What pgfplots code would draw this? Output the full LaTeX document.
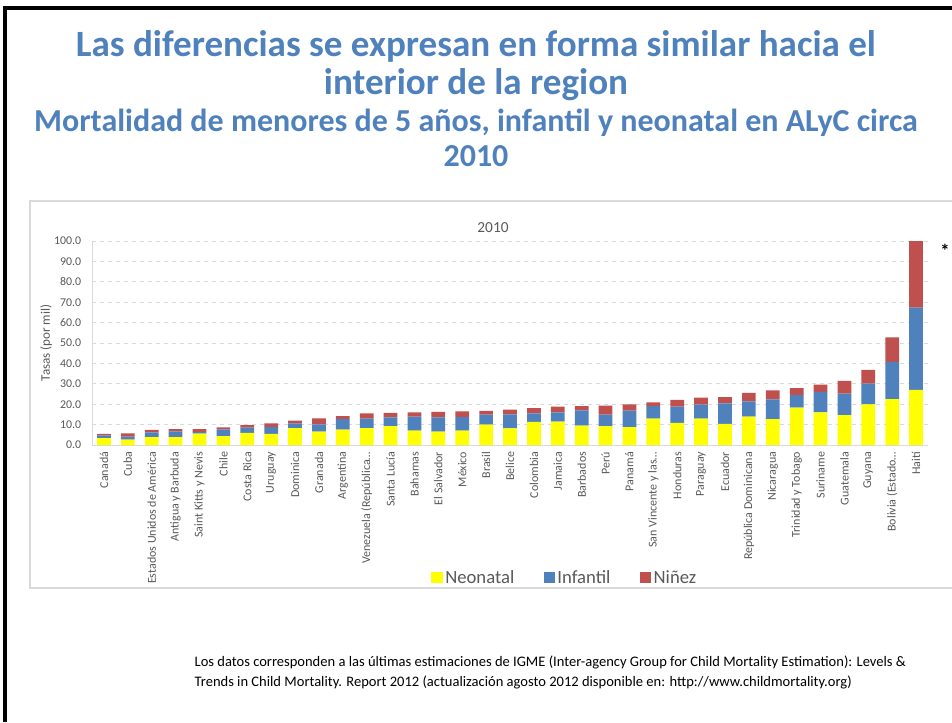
\documentclass[border=0pt]{standalone}
\usepackage{pgfplots}
\pgfplotsset{compat=1.18}
\usepackage{pgfplotstable}
\usepackage{fontspec}
\setmainfont{Carlito}
\definecolor{ttl}{HTML}{4F81BD}
\definecolor{neo}{HTML}{FFFF00}
\definecolor{inf}{HTML}{4F81BD}
\definecolor{nin}{HTML}{C0504D}
\definecolor{lbl}{HTML}{595959}
\definecolor{grd}{HTML}{D9D9D9}

\pgfplotstableread{
x neo inf nin
0 3.4 1.3 0.7
1 2.6 1.5 1.6
2 3.9 2.3 1.2
3 3.9 2.8 1.1
4 5.6 0.8 1.4
5 4.4 3.3 1.0
6 5.9 2.6 1.3
7 5.4 3.4 1.8
8 8.3 2.3 1.3
9 6.5 3.6 3.0
10 7.5 5.2 1.5
11 8.3 4.6 2.6
12 9.3 4.3 2.1
13 7.0 6.9 2.1
14 6.5 7.1 2.6
15 7.0 6.7 2.8
16 10.0 4.9 1.8
17 8.2 6.8 2.3
18 11.3 4.2 2.6
19 11.4 4.6 2.8
20 9.5 7.5 2.1
21 9.3 5.6 4.4
22 8.8 8.0 3.1
23 12.9 6.1 1.9
24 10.8 8.0 3.3
25 12.9 6.9 3.4
26 10.3 10.1 3.1
27 13.9 7.5 4.1
28 12.7 9.7 4.4
29 18.3 6.2 3.4
30 16.0 10.1 3.5
31 14.7 10.5 6.2
32 19.9 10.2 6.7
33 22.5 18.2 12.1
34 27.0 40.3 32.7
}\datatable

\begin{document}
\begin{tikzpicture}[x=0.75pt,y=0.75pt]
\path[use as bounding box] (0,0) rectangle (952,722);
\fill[white] (0,0) rectangle (952,722);
\coordinate (axorig) at (92,277);
% slide border
\draw[black,line width=2.4pt] (5,0) -- (5,714) -- (952,714);
% titles
\node[anchor=base,text=ttl,font=\fontsize{27.8}{30}\selectfont\bfseries] at (476,722-57) {Las diferencias se expresan en forma similar hacia el};
\node[anchor=base,text=ttl,font=\fontsize{27.8}{30}\selectfont\bfseries] at (476,722-95) {interior de la region};
\node[anchor=base,text=ttl,font=\fontsize{24}{26}\selectfont\bfseries] at (476,722-132) {Mortalidad de menores de 5 años, infantil y neonatal en ALyC circa};
\node[anchor=base,text=ttl,font=\fontsize{24}{26}\selectfont\bfseries] at (476,722-167) {2010};
% chart box
\draw[grd,line width=0.8pt] (960,722-201) -- (30,722-201) -- (30,722-588) -- (960,722-588);
\node[anchor=base,text=lbl,font=\fontsize{11.5}{13}\selectfont] at (493,722-233) {2010};
\node[anchor=center,font=\fontsize{14}{16}\selectfont\bfseries] at (945,722-251) {*};
\begin{axis}[
  at={(axorig)}, anchor=south west,
  scale only axis, width=627pt, height=153pt,
  ybar stacked, bar width=10.3pt,
  xmin=-0.5, xmax=34.5, ymin=0, ymax=100,
  ytick={0,10,...,100},
  xtick=data,
  xticklabels={Canadá,Cuba,Estados Unidos de América,Antigua y Barbuda,Saint Kitts y Nevis,Chile,Costa Rica,Uruguay,Dominica,Granada,Argentina,Venezuela (República…,Santa Lucía,Bahamas,El Salvador,México,Brasil,Belice,Colombia,Jamaica,Barbados,Perú,Panamá,San Vincente y las…,Honduras,Paraguay,Ecuador,República Dominicana,Nicaragua,Trinidad y Tobago,Suriname,Guatemala,Guyana,Bolivia (Estado…,Haití},
  axis x line*=bottom, axis y line*=left,
  axis line style={grd,-},
  major tick length=0pt,
  ymajorgrids, grid style={dashed,grd,line width=0.6pt},
  /pgf/number format/assume math mode=true,
  yticklabel={\pgfmathprintnumber[fixed,fixed zerofill,precision=1]{\tick}},
  yticklabel style={text=lbl,font=\fontsize{8.9}{10}\selectfont,inner sep=0pt},
  yticklabel shift=8pt,
  xticklabel style={text=lbl,font=\fontsize{9}{10}\selectfont,rotate=90,anchor=east,inner sep=0pt},
  xticklabel shift=5pt,
  ylabel={Tasas (por mil)},
  ylabel style={text=lbl,font=\fontsize{9.8}{11}\selectfont},
  every axis y label/.append style={at={(ticklabel cs:0.5)},yshift=-2pt},
  legend columns=3,
  legend style={at={(0.566,-0.65)},anchor=center,draw=none,fill=none,
    font=\fontsize{14}{16}\selectfont,text=lbl,
    /tikz/every even column/.append style={column sep=20pt}},
  legend image code/.code={\fill[#1] (0pt,-4.2pt) rectangle (8.4pt,4.2pt);},
]
\addplot[fill=neo,draw=none] table[x=x,y=neo]{\datatable};
\addplot[fill=inf,draw=none] table[x=x,y=inf]{\datatable};
\addplot[fill=nin,draw=none] table[x=x,y=nin]{\datatable};
\legend{Neonatal,Infantil,Niñez}
\end{axis}
% footer
\node[anchor=base west,font=\fontsize{10.9}{13}\selectfont] at (190,722-666) {Los datos corresponden a las últimas estimaciones de IGME (Inter-agency Group for Child Mortality Estimation): Levels \&};
\node[anchor=base west,font=\fontsize{10.9}{13}\selectfont] at (190,722-686) {Trends in Child Mortality. Report 2012 (actualización agosto 2012 disponible en: http://www.childmortality.org)};
\end{tikzpicture}
\end{document}
